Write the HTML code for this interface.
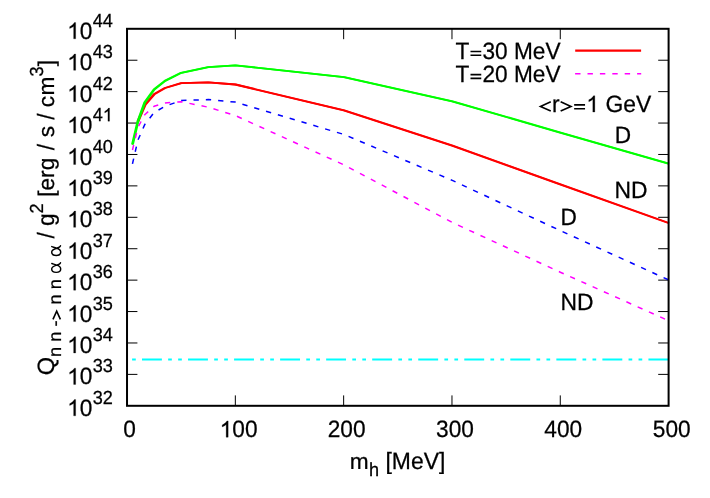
<!DOCTYPE html>
<html><head><meta charset="utf-8"><title>plot</title>
<style>
html,body{margin:0;padding:0;background:#fff;}
body{width:710px;height:498px;overflow:hidden;}
svg{display:block;will-change:transform;}
text{font-family:"Liberation Sans",sans-serif;fill:#000;stroke:#000;stroke-width:0.25px;text-rendering:geometricPrecision;}
.m{font-size:22.67px;}
.s{font-size:18.13px;}
</style></head><body>
<svg width="710" height="498" viewBox="0 0 710 498">
<rect x="0" y="0" width="710" height="498" fill="#fff"/>

<g stroke="#000" stroke-width="1" fill="none">
<path d="M127.02 60.22H137.42 M668.60 60.22H658.20"/>
<path d="M127.02 91.63H137.42 M668.60 91.63H658.20"/>
<path d="M127.02 123.05H137.42 M668.60 123.05H658.20"/>
<path d="M127.02 154.47H137.42 M668.60 154.47H658.20"/>
<path d="M127.02 185.88H137.42 M668.60 185.88H658.20"/>
<path d="M127.02 217.30H137.42 M668.60 217.30H658.20"/>
<path d="M127.02 248.72H137.42 M668.60 248.72H658.20"/>
<path d="M127.02 280.13H137.42 M668.60 280.13H658.20"/>
<path d="M127.02 311.55H137.42 M668.60 311.55H658.20"/>
<path d="M127.02 342.97H137.42 M668.60 342.97H658.20"/>
<path d="M127.02 374.38H137.42 M668.60 374.38H658.20"/>
<path d="M235.34 405.80V395.40 M235.34 28.80V39.20"/>
<path d="M343.65 405.80V395.40 M343.65 28.80V39.20"/>
<path d="M451.97 405.80V395.40 M451.97 28.80V39.20"/>
<path d="M560.28 405.80V395.40 M560.28 28.80V39.20"/>
</g>
<path transform="translate(67.20 38.85) scale(0.01107 -0.01107)" d="M763 0H583V1147Q518 1085 412.5 1023T223 930V1104Q374 1175 487 1276T647 1472H763Z" fill="#000" stroke="#000" stroke-width="22.6"/>
<text class="m" transform="translate(79.81 38.85) scale(1.000 1.045)">0</text>
<text class="s" transform="translate(92.70 26.90) scale(1.000 1.045)">44</text>
<path transform="translate(67.20 70.27) scale(0.01107 -0.01107)" d="M763 0H583V1147Q518 1085 412.5 1023T223 930V1104Q374 1175 487 1276T647 1472H763Z" fill="#000" stroke="#000" stroke-width="22.6"/>
<text class="m" transform="translate(79.81 70.27) scale(1.000 1.045)">0</text>
<text class="s" transform="translate(92.70 58.32) scale(1.000 1.045)">43</text>
<path transform="translate(67.20 101.68) scale(0.01107 -0.01107)" d="M763 0H583V1147Q518 1085 412.5 1023T223 930V1104Q374 1175 487 1276T647 1472H763Z" fill="#000" stroke="#000" stroke-width="22.6"/>
<text class="m" transform="translate(79.81 101.68) scale(1.000 1.045)">0</text>
<text class="s" transform="translate(92.70 89.73) scale(1.000 1.045)">42</text>
<path transform="translate(67.20 133.10) scale(0.01107 -0.01107)" d="M763 0H583V1147Q518 1085 412.5 1023T223 930V1104Q374 1175 487 1276T647 1472H763Z" fill="#000" stroke="#000" stroke-width="22.6"/>
<text class="m" transform="translate(79.81 133.10) scale(1.000 1.045)">0</text>
<text class="s" transform="translate(92.70 121.15) scale(1.000 1.045)">4</text>
<path transform="translate(102.78 121.15) scale(0.00885 -0.00885)" d="M763 0H583V1147Q518 1085 412.5 1023T223 930V1104Q374 1175 487 1276T647 1472H763Z" fill="#000" stroke="#000" stroke-width="28.2"/>
<path transform="translate(67.20 164.52) scale(0.01107 -0.01107)" d="M763 0H583V1147Q518 1085 412.5 1023T223 930V1104Q374 1175 487 1276T647 1472H763Z" fill="#000" stroke="#000" stroke-width="22.6"/>
<text class="m" transform="translate(79.81 164.52) scale(1.000 1.045)">0</text>
<text class="s" transform="translate(92.70 152.57) scale(1.000 1.045)">40</text>
<path transform="translate(67.20 195.93) scale(0.01107 -0.01107)" d="M763 0H583V1147Q518 1085 412.5 1023T223 930V1104Q374 1175 487 1276T647 1472H763Z" fill="#000" stroke="#000" stroke-width="22.6"/>
<text class="m" transform="translate(79.81 195.93) scale(1.000 1.045)">0</text>
<text class="s" transform="translate(92.70 183.98) scale(1.000 1.045)">39</text>
<path transform="translate(67.20 227.35) scale(0.01107 -0.01107)" d="M763 0H583V1147Q518 1085 412.5 1023T223 930V1104Q374 1175 487 1276T647 1472H763Z" fill="#000" stroke="#000" stroke-width="22.6"/>
<text class="m" transform="translate(79.81 227.35) scale(1.000 1.045)">0</text>
<text class="s" transform="translate(92.70 215.40) scale(1.000 1.045)">38</text>
<path transform="translate(67.20 258.77) scale(0.01107 -0.01107)" d="M763 0H583V1147Q518 1085 412.5 1023T223 930V1104Q374 1175 487 1276T647 1472H763Z" fill="#000" stroke="#000" stroke-width="22.6"/>
<text class="m" transform="translate(79.81 258.77) scale(1.000 1.045)">0</text>
<text class="s" transform="translate(92.70 246.82) scale(1.000 1.045)">37</text>
<path transform="translate(67.20 290.18) scale(0.01107 -0.01107)" d="M763 0H583V1147Q518 1085 412.5 1023T223 930V1104Q374 1175 487 1276T647 1472H763Z" fill="#000" stroke="#000" stroke-width="22.6"/>
<text class="m" transform="translate(79.81 290.18) scale(1.000 1.045)">0</text>
<text class="s" transform="translate(92.70 278.23) scale(1.000 1.045)">36</text>
<path transform="translate(67.20 321.60) scale(0.01107 -0.01107)" d="M763 0H583V1147Q518 1085 412.5 1023T223 930V1104Q374 1175 487 1276T647 1472H763Z" fill="#000" stroke="#000" stroke-width="22.6"/>
<text class="m" transform="translate(79.81 321.60) scale(1.000 1.045)">0</text>
<text class="s" transform="translate(92.70 309.65) scale(1.000 1.045)">35</text>
<path transform="translate(67.20 353.02) scale(0.01107 -0.01107)" d="M763 0H583V1147Q518 1085 412.5 1023T223 930V1104Q374 1175 487 1276T647 1472H763Z" fill="#000" stroke="#000" stroke-width="22.6"/>
<text class="m" transform="translate(79.81 353.02) scale(1.000 1.045)">0</text>
<text class="s" transform="translate(92.70 341.07) scale(1.000 1.045)">34</text>
<path transform="translate(67.20 384.43) scale(0.01107 -0.01107)" d="M763 0H583V1147Q518 1085 412.5 1023T223 930V1104Q374 1175 487 1276T647 1472H763Z" fill="#000" stroke="#000" stroke-width="22.6"/>
<text class="m" transform="translate(79.81 384.43) scale(1.000 1.045)">0</text>
<text class="s" transform="translate(92.70 372.48) scale(1.000 1.045)">33</text>
<path transform="translate(67.20 415.85) scale(0.01107 -0.01107)" d="M763 0H583V1147Q518 1085 412.5 1023T223 930V1104Q374 1175 487 1276T647 1472H763Z" fill="#000" stroke="#000" stroke-width="22.6"/>
<text class="m" transform="translate(79.81 415.85) scale(1.000 1.045)">0</text>
<text class="s" transform="translate(92.70 403.90) scale(1.000 1.045)">32</text>
<text class="m" transform="translate(123.32 437.20) scale(1.000 1.045)">0</text>
<path transform="translate(219.72 437.20) scale(0.01107 -0.01107)" d="M763 0H583V1147Q518 1085 412.5 1023T223 930V1104Q374 1175 487 1276T647 1472H763Z" fill="#000" stroke="#000" stroke-width="22.6"/>
<text class="m" transform="translate(232.33 437.20) scale(1.000 1.045)">00</text>
<text class="m" transform="translate(327.74 437.20) scale(1.000 1.045)">200</text>
<text class="m" transform="translate(436.06 437.20) scale(1.000 1.045)">300</text>
<text class="m" transform="translate(544.37 437.20) scale(1.000 1.045)">400</text>
<text class="m" transform="translate(652.79 437.20) scale(1.000 1.045)">500</text>
<g fill="none" stroke-linejoin="round" stroke-linecap="butt">
<polyline points="132.47,144.50 137.88,121.70" stroke="#ff0000" stroke-width="1.2"/>
<polyline points="137.38,121.70 144.70,104.60 153.60,94.30 164.50,88.00 180.70,83.10 207.80,82.40 234.90,84.50 343.50,110.40 451.80,145.60 559.80,184.40 668.10,223.00" stroke="#ff0000" stroke-width="1.8"/>
<polyline points="138.38,121.70 145.70,104.60 154.60,94.30 165.50,88.00 181.70,83.10 208.80,82.40 235.90,84.50 344.50,110.40 452.80,145.60 560.80,184.40 669.10,223.00" stroke="#ff0000" stroke-width="1.8"/>
<polyline points="131.97,144.50 137.38,121.50 144.20,102.50 153.60,89.50 164.50,80.90 180.70,72.80 207.80,67.20 234.90,65.30 343.50,77.20 451.80,101.30 559.80,132.60 668.10,163.70" stroke="#00ff00" stroke-width="1.8"/>
<polyline points="132.97,144.50 138.38,121.50 145.20,102.50 154.60,89.50 165.50,80.90 181.70,72.80 208.80,67.20 235.90,65.30 344.50,77.20 452.80,101.30 560.80,132.60 669.10,163.70" stroke="#00ff00" stroke-width="1.8"/>
<polyline points="132.47,163.80 137.88,140.20 144.70,124.60 154.10,112.50 165.00,106.30 181.20,100.45 208.30,99.60 235.40,102.10 344.00,134.50 452.30,180.40 560.30,230.60 668.60,279.90" stroke="#0000ff" stroke-width="1.5" stroke-dasharray="5.3 7.03"/>
<polyline points="132.47,150.00 137.88,127.40 144.70,114.80 154.10,106.20 165.00,103.00 181.20,101.70 208.30,107.20 235.40,115.60 344.00,164.90 452.30,222.50 560.30,272.20 668.60,320.70" stroke="#ff00ff" stroke-width="1.5" stroke-dasharray="5.3 7.03"/>
<path d="M132.1 359.6H668.6" stroke="#00ffff" stroke-width="2" stroke-dasharray="3.7 6.19 19.9 6.25 3.7 6.3"/>
<path d="M575.2 50.65H641.1" stroke="#ff0000" stroke-width="2.15"/>
<path d="M575.1 73.65H641.2" stroke="#ff00ff" stroke-width="1.5" stroke-dasharray="5.4 7"/>
</g>
<rect x="127.02" y="28.80" width="541.58" height="377.00" fill="none" stroke="#000" stroke-width="2"/>
<text class="m" transform="translate(455.40 58.65) scale(1.000 1.040)">T</text>
<path d="M470.49 51.50h10.77M470.49 55.30h10.77" fill="none" stroke="#000" stroke-width="1.6"/>
<text class="m" transform="translate(482.49 58.65) scale(1.000 1.040)">30 MeV</text>
<text class="m" transform="translate(455.40 81.75) scale(1.000 1.040)">T</text>
<path d="M470.49 74.60h10.77M470.49 78.40h10.77" fill="none" stroke="#000" stroke-width="1.6"/>
<text class="m" transform="translate(482.49 81.75) scale(1.000 1.040)">20 MeV</text>
<path d="M550.76 101.75L540.45 106.40L550.76 111.05" fill="none" stroke="#000" stroke-width="1.6" stroke-linejoin="miter" stroke-miterlimit="10"/>
<text class="m" transform="translate(551.88 112.05) scale(1.011 1.040)">r</text>
<path d="M560.66 101.75L570.98 106.40L560.66 111.05" fill="none" stroke="#000" stroke-width="1.6" stroke-linejoin="miter" stroke-miterlimit="10"/>
<path d="M574.16 104.90h10.89M574.16 108.70h10.89" fill="none" stroke="#000" stroke-width="1.6"/>
<path transform="translate(586.29 112.05) scale(0.01119 -0.01107)" d="M763 0H583V1147Q518 1085 412.5 1023T223 930V1104Q374 1175 487 1276T647 1472H763Z" fill="#000" stroke="#000" stroke-width="22.6"/>
<text class="m" transform="translate(605.40 112.05) scale(1.011 1.040)">GeV</text>
<text class="m" transform="translate(614.80 142.90) scale(1.000 1.040)">D</text>
<text class="m" transform="translate(614.50 198.20) scale(1.010 1.040)">ND</text>
<text class="m" transform="translate(560.60 224.50) scale(1.000 1.040)">D</text>
<text class="m" transform="translate(560.50 310.10) scale(1.010 1.040)">ND</text>
<text class="m" transform="translate(349.70 468.60) scale(1.000 0.990)">m</text>
<text class="s" transform="translate(368.90 476.00) scale(1.000 1.040)">h</text>
<text class="m" transform="translate(385.50 468.60) scale(1.012 1.040)">[MeV]</text>
<g transform="translate(54.4 0) rotate(-90)">
<text class="m" transform="translate(-375.20 0.00) scale(1.040 1.040)">Q</text>
<text class="s" transform="translate(-356.90 6.80) scale(1.008 0.990)">n n -</text>
<path d="M-319.42 -1.44L-311.19 2.28L-319.42 6.00" fill="none" stroke="#000" stroke-width="1.6" stroke-linejoin="miter" stroke-miterlimit="10"/>
<text class="s" transform="translate(-304.58 6.80) scale(1.008 0.990)">n n</text>
<path transform="translate(-273.20 6.8)" d="M9.7 -9.4C9.1 -7.6 8.6 -6 8.1 -4.6C7.4 -2.3 6.2 -0.5 4.2 -0.5C1.9 -0.5 0.85 -2.4 0.85 -5C0.85 -7.6 1.9 -9.5 4.2 -9.5C6 -9.5 7.2 -7.6 8.1 -4.6C8.7 -2.6 9.3 -0.7 10.5 -0.7" fill="none" stroke="#000" stroke-width="1.45" stroke-linecap="round" stroke-linejoin="round"/>
<path transform="translate(-256.30 6.8)" d="M9.7 -9.4C9.1 -7.6 8.6 -6 8.1 -4.6C7.4 -2.3 6.2 -0.5 4.2 -0.5C1.9 -0.5 0.85 -2.4 0.85 -5C0.85 -7.6 1.9 -9.5 4.2 -9.5C6 -9.5 7.2 -7.6 8.1 -4.6C8.7 -2.6 9.3 -0.7 10.5 -0.7" fill="none" stroke="#000" stroke-width="1.45" stroke-linecap="round" stroke-linejoin="round"/>
<text class="m" transform="translate(-238.50 0.00) scale(1.000 1.040)">/ g</text>
<text class="s" transform="translate(-213.60 -11.30) scale(1.000 1.040)">2</text>
<text class="m" transform="translate(-196.80 0.00) scale(1.000 1.000)">[erg</text>
<text class="m" transform="translate(-150.35 0.00) scale(1.000 1.040)">/</text>
<text class="m" transform="translate(-137.35 0.00) scale(1.000 0.990)">s</text>
<text class="m" transform="translate(-119.70 0.00) scale(1.000 1.040)">/</text>
<text class="m" transform="translate(-107.20 0.00) scale(1.000 0.990)">c</text>
<text class="m" transform="translate(-95.40 0.00) scale(1.000 0.990)">m</text>
<text class="s" transform="translate(-76.60 -11.30) scale(1.000 1.040)">3</text>
<text class="m" transform="translate(-66.30 0.00) scale(1.000 1.000)">]</text>
</g>
</svg></body></html>
